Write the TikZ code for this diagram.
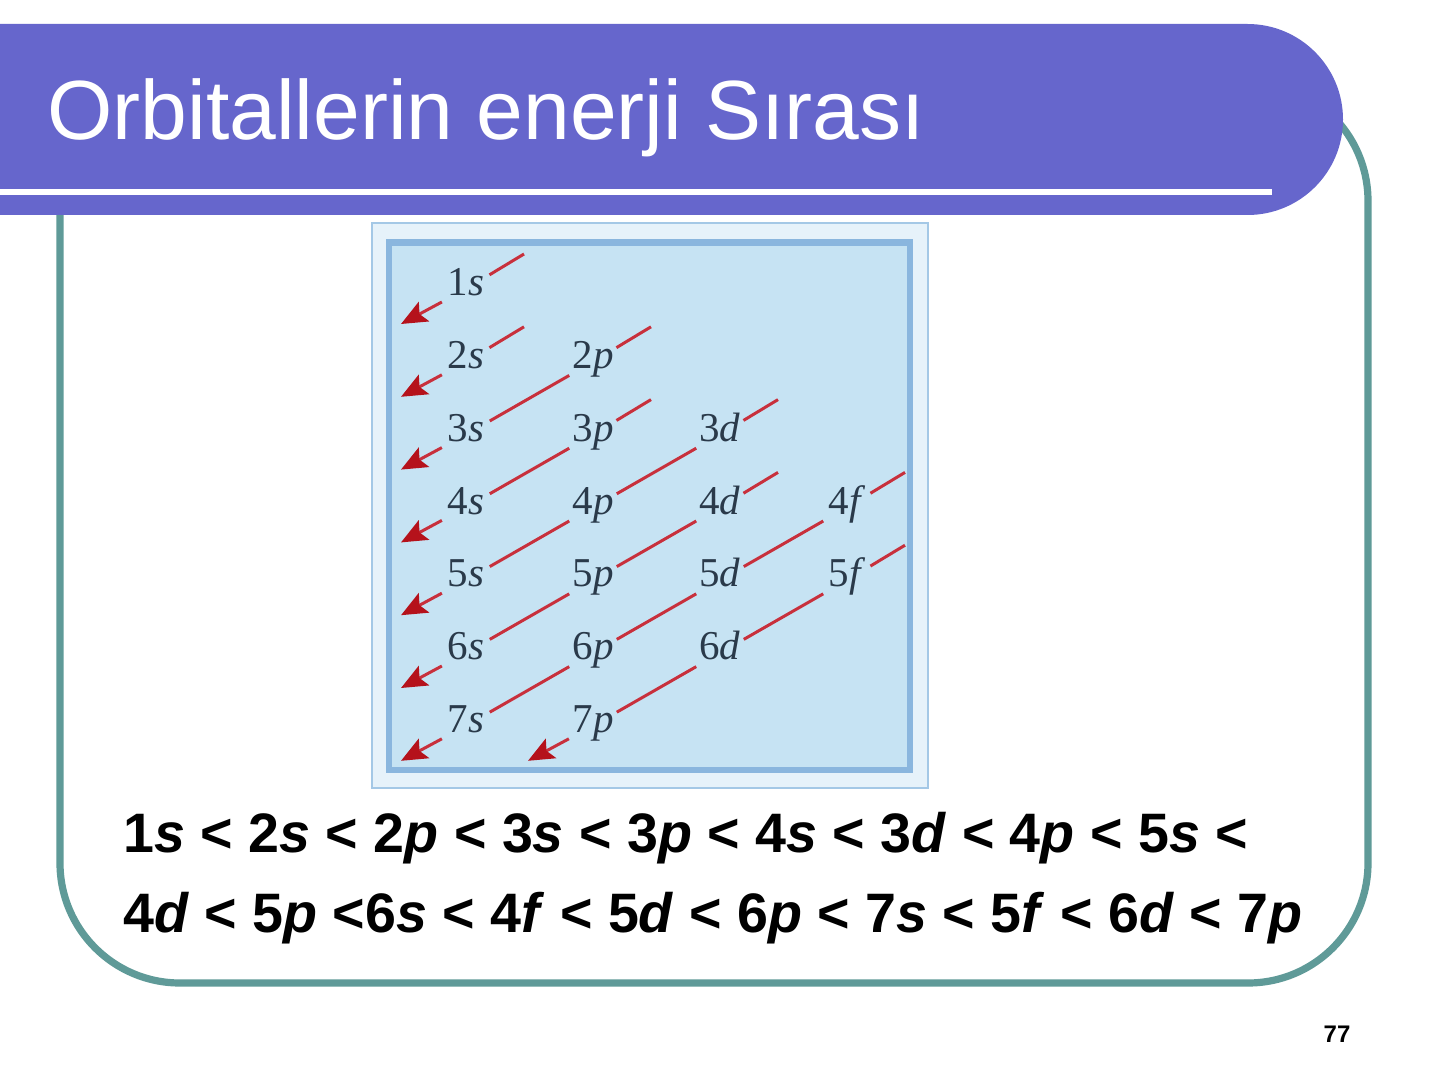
\documentclass[tikz,border=0pt]{standalone}
\usepackage{fontspec}
\setmainfont{Liberation Sans}
\newfontfamily\timesf{Liberation Serif}
\usetikzlibrary{arrows.meta,calc}
\definecolor{barpurple}{HTML}{6666CC}
\definecolor{tealline}{HTML}{5F9A98}
\definecolor{bandblue}{HTML}{E6F2FA}
\definecolor{edgeblue}{HTML}{A4C8E6}
\definecolor{frameblue}{HTML}{8AB6DE}
\definecolor{innerblue}{HTML}{C6E3F3}
\definecolor{redl}{HTML}{C8303C}
\definecolor{redh}{HTML}{B5121B}
\definecolor{labelcol}{HTML}{2A3A4A}
\tikzset{
  orb/.style={circle, minimum size=27pt, inner sep=0pt, text=labelcol,
    font=\timesf\fontsize{20.5}{20.5}\selectfont, text height=0.66em, text depth=0pt},
  redline/.style={draw=redl, line width=1.5pt},
  redarrow/.style={draw=redl, line width=1.5pt,
    -{Stealth[length=13pt,width=11pt,inset=2.5pt,fill=redh,color=redh]}},
  titletext/.style={text=white, inner sep=0pt, font=\fontsize{42}{50}\selectfont},
  ordertext/.style={inner sep=0pt, font=\bfseries\fontsize{27.8}{32}\selectfont},
}
\begin{document}
\begin{tikzpicture}[x=0.5pt,y=-0.5pt]
\useasboundingbox[fill=white] (0,0) rectangle (1440,1080);
% teal rounded frame
\draw[tealline, line width=3.6pt, rounded corners=60pt] (60,81) rectangle (1368,983);
% title bar
\fill[barpurple] (-10,24) -- (1247.5,24) arc[start angle=90, end angle=-90, radius=47.75pt] -- (-10,215) -- cycle;
\fill[white] (-10,189) rectangle (1272,195);
\node[titletext, anchor=base west] (title) at (47,140) {Orbitallerin enerji Sırası};
% picture box
\draw[fill=bandblue, draw=edgeblue, line width=0.8pt] (372,223) rectangle (928,788);
\draw[fill=innerblue, draw=frameblue, line width=3.3pt] (389,242.5) rectangle (910,770);
% labels
\foreach \n/\c/\l/\cn in {1/0/s/s,2/0/s/s,3/0/s/s,4/0/s/s,5/0/s/s,6/0/s/s,7/0/s/s,
  2/1/p/p,3/1/p/p,4/1/p/p,5/1/p/p,6/1/p/p,7/1/p/p,
  3/2/d/d,4/2/d/d,5/2/d/d,6/2/d/d,
  4/3/f/f,5/3/f/f}{
  \node[orb] (l\n\cn) at ({466+127*\c},{289+72.8*(\n-1)}) {\n\textit{\l}};
}
% stub coordinates and arrow tips
\foreach \t in {1s,2s,2p,3p,3d,4d,4f,5f}{
  \coordinate (t\t) at ($(l\t)+(58,-35)$);
}
\foreach \b in {1s,2s,3s,4s,5s,6s,7s,7p}{
  \coordinate (a\b) at ($(l\b)+(-65,35)$);
}
% stubs
\foreach \t in {1s,2s,2p,3p,3d,4d,4f,5f}{
  \draw[redline] (t\t) -- (l\t);
}
% connecting segments
\draw[redline] (l2p) -- (l3s);
\draw[redline] (l3p) -- (l4s);
\draw[redline] (l3d) -- (l4p);
\draw[redline] (l4p) -- (l5s);
\draw[redline] (l4d) -- (l5p);
\draw[redline] (l5p) -- (l6s);
\draw[redline] (l4f) -- (l5d);
\draw[redline] (l5d) -- (l6p);
\draw[redline] (l6p) -- (l7s);
\draw[redline] (l5f) -- (l6d);
\draw[redline] (l6d) -- (l7p);
% arrows
\foreach \b in {1s,2s,3s,4s,5s,6s,7s,7p}{
  \draw[redarrow] (l\b) -- (a\b);
}
% order text
\node[ordertext, anchor=base west] (ord1) at (123,852)
  {1\textit{s} < 2\textit{s} < 2\textit{p} < 3\textit{s} < 3\textit{p} < 4\textit{s} < 3\textit{d} < 4\textit{p} < 5\textit{s} <};
\node[ordertext, anchor=base west] (ord2) at (123,932)
  {4\textit{d} < 5\textit{p} <6\textit{s} < 4\textit{f} < 5\textit{d} < 6\textit{p} < 7\textit{s} < 5\textit{f} < 6\textit{d} < 7\textit{p}};
\node[inner sep=0pt, font=\bfseries\fontsize{12}{14}\selectfont] (pg) at (1337,1034) {77};
\end{tikzpicture}
\end{document}
